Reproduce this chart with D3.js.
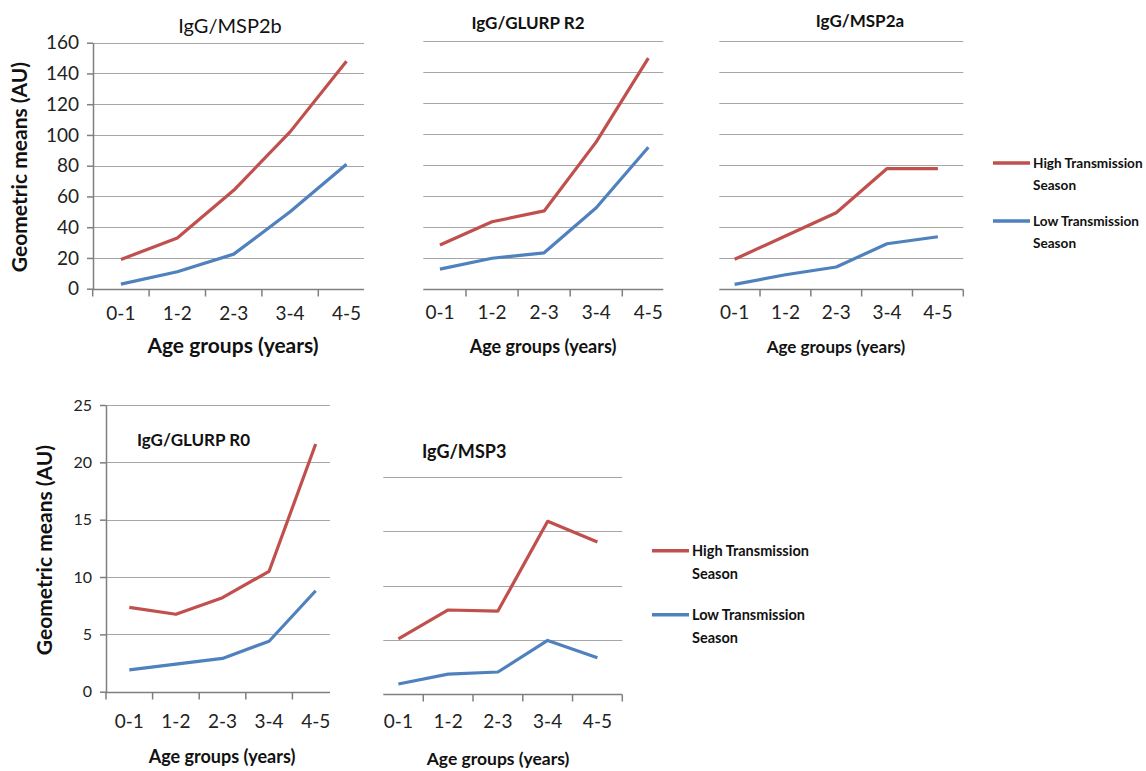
<!DOCTYPE html>
<html>
<head>
<meta charset="utf-8">
<script src="https://cdn.jsdelivr.net/npm/d3@7"></script>
<style>
  body { margin: 0; background: #fff; }
  svg { display: block; font-family: Lato, "Liberation Sans", sans-serif; }
  .lab { fill: #222; }
  .ttl { fill: #111; }
  .axt { font-weight: bold; fill: #111; }
  .leg { font-weight: bold; fill: #111; }
</style>
</head>
<body>
<div id="chart"></div>
<script>
// ---- data ----
var ageGroups = ["0-1", "1-2", "2-3", "3-4", "4-5"];
var seriesNames = ["High Transmission Season", "Low Transmission Season"];
var colors = ["#c0504d", "#4f81bd"];

var msp2bHigh = [19, 33, 64, 102, 148];
var msp2bLow = [3, 11, 22.5, 50, 81];
var glurpR2High = [28.5, 43.5, 50.5, 95, 149];
var glurpR2Low = [13, 20, 23.5, 52.5, 91.5];
var msp2aHigh = [19, 34, 49, 77.5, 77.5];
var msp2aLow = [2.8, 9, 14, 29, 33.5];
var glurpR0High = [7.35, 6.75, 8.2, 10.5, 21.6];
var glurpR0Low = [1.9, 2.4, 2.9, 4.4, 8.8];
var msp3High = [5.1, 7.75, 7.65, 15.9, 14];
var msp3Low = [0.95, 1.85, 2.05, 4.95, 3.35];

var ticksTop = [0, 20, 40, 60, 80, 100, 120, 140, 160];
var ticksR0 = [0, 5, 10, 15, 20, 25];
var ticksMsp3 = [0, 5, 10, 15, 20];

var width = 1146, height = 771;

var svg = d3.select("#chart").append("svg")
	.attr("width", width)
	.attr("height", height);

////////////////////////////////////////////////////////////
///////////////////// panel layouts ////////////////////////
////////////////////////////////////////////////////////////

var panels = [
	{ title: "IgG/MSP2b", high: msp2bHigh, low: msp2bLow, ticks: ticksTop,
	  band: [92.7, 374.7], grid: [93, 364], yr: [288.7, 42.7], yAxis: true, endTick: false,
	  tx: 230, ty: 33, tsize: 20, tweight: "normal", tanchor: "middle",
	  xt: 233, xty: 353, xtsize: 21, labY: 320, labSize: 19, ylabSize: 19,
	  ytx: 20, yty: 167, ytsize: 21 },
	{ title: "IgG/GLURP R2", high: glurpR2High, low: glurpR2Low, ticks: ticksTop,
	  band: [413.9, 674.4], grid: [423.3, 663.3], yr: [289.3, 41], yAxis: false, endTick: false,
	  tx: 528, ty: 29, tsize: 17, tweight: "bold", tanchor: "middle",
	  xt: 543, xty: 353, xtsize: 18, labY: 319, labSize: 19 },
	{ title: "IgG/MSP2a", high: msp2aHigh, low: msp2aLow, ticks: ticksTop,
	  band: [709.2, 963.3], grid: [719.3, 963.3], yr: [288.7, 40.7], yAxis: false, endTick: true,
	  tx: 860, ty: 27, tsize: 17, tweight: "bold", tanchor: "middle",
	  xt: 836, xty: 353, xtsize: 17, labY: 319, labSize: 19,
	  legend: { x: 993, y: 163, len: 37, gap: 58, size: 13.6 } },
	{ title: "IgG/GLURP R0", high: glurpR0High, low: glurpR0Low, ticks: ticksR0,
	  band: [106, 339], grid: [106, 330], yr: [691.7, 405], yAxis: true, endTick: false,
	  tx: 137, ty: 446, tsize: 17, tweight: "bold", tanchor: "start",
	  xt: 222, xty: 763, xtsize: 18, labY: 728, labSize: 19, ylabSize: 16,
	  ytx: 45, yty: 550, ytsize: 21 },
	{ title: "IgG/MSP3", high: msp3High, low: msp3Low, ticks: ticksMsp3,
	  band: [373.5, 622.3], grid: [383.3, 622.3], yr: [694.3, 476.7], yAxis: false, endTick: true,
	  tx: 422, ty: 458, tsize: 18, tweight: "bold", tanchor: "start",
	  xt: 498, xty: 765, xtsize: 17.5, labY: 728, labSize: 19,
	  legend: { x: 652, y: 550.7, len: 37, gap: 64, size: 14.5 } }
];

panels.forEach(drawPanel);

function drawPanel(p) {
	var g = svg.append("g");

	var x = d3.scaleBand()
		.domain(ageGroups)
		.range(p.band);

	var y = d3.scaleLinear()
		.domain(d3.extent(p.ticks))
		.range(p.yr);

	//gridlines
	g.selectAll("line.grid")
		.data(p.ticks.slice(1))
		.enter().append("line")
		.attr("class", "grid")
		.attr("x1", p.grid[0]).attr("x2", p.grid[1])
		.attr("y1", function(d) { return Math.round(y(d)) + 0.5; })
		.attr("y2", function(d) { return Math.round(y(d)) + 0.5; })
		.style("stroke", "#a6a6a6")
		.style("stroke-width", 1.2);

	//y axis with labels
	if (p.yAxis) {
		var ya = g.append("g")
			.attr("transform", "translate(" + p.grid[0] + ",0)")
			.call(d3.axisLeft(y).tickValues(p.ticks).tickSize(6).tickPadding(8).tickSizeOuter(0));
		ya.select(".domain").style("stroke", "#7f7f7f").style("stroke-width", 1.5);
		ya.selectAll(".tick line").style("stroke", "#7f7f7f").style("stroke-width", 1.5);
		ya.selectAll(".tick text")
			.attr("class", "lab")
			.style("font-size", p.ylabSize + "px")
			.style("font-family", "Lato, 'Liberation Sans', sans-serif");

		g.append("text")
			.attr("class", "axt")
			.attr("transform", "translate(" + p.ytx + "," + p.yty + ") rotate(-90)")
			.attr("text-anchor", "middle")
			.attr("dy", "0.35em")
			.style("font-size", p.ytsize + "px")
			.text("Geometric means (AU)");
	}

	//x axis
	var y0 = Math.round(y(0)) + 0.5;
	g.append("line")
		.attr("x1", p.grid[0]).attr("x2", p.grid[1])
		.attr("y1", y0).attr("y2", y0)
		.style("stroke", "#7f7f7f")
		.style("stroke-width", 1.5);

	var tickPos = ageGroups.map(function(d) { return x(d); });
	if (!p.yAxis) tickPos = tickPos.slice(1);
	if (p.endTick) tickPos.push(p.band[1]);
	g.selectAll("line.xtick")
		.data(tickPos)
		.enter().append("line")
		.attr("class", "xtick")
		.attr("x1", function(d) { return d; }).attr("x2", function(d) { return d; })
		.attr("y1", y0).attr("y2", y0 + 7)
		.style("stroke", "#7f7f7f")
		.style("stroke-width", 1.5);

	g.selectAll("text.xlab")
		.data(ageGroups)
		.enter().append("text")
		.attr("class", "lab")
		.attr("x", function(d) { return x(d) + x.bandwidth() / 2; })
		.attr("y", p.labY)
		.attr("text-anchor", "middle")
		.style("font-size", p.labSize + "px")
		.text(function(d) { return d; });

	g.append("text")
		.attr("class", "axt")
		.attr("x", p.xt)
		.attr("y", p.xty)
		.attr("text-anchor", "middle")
		.style("font-size", p.xtsize + "px")
		.text("Age groups (years)");

	//title
	g.append("text")
		.attr("class", "ttl")
		.attr("x", p.tx)
		.attr("y", p.ty)
		.attr("text-anchor", p.tanchor)
		.style("font-size", p.tsize + "px")
		.style("font-weight", p.tweight)
		.text(p.title);

	//lines
	var line = d3.line()
		.x(function(d, i) { return x(ageGroups[i]) + x.bandwidth() / 2; })
		.y(function(d) { return y(d); });

	[p.high, p.low].forEach(function(vals, k) {
		g.append("path")
			.datum(vals)
			.attr("d", line)
			.style("fill", "none")
			.style("stroke", colors[k])
			.style("stroke-width", 3.2)
			.style("stroke-linejoin", "round");
	});

	//legend
	if (p.legend) {
		var lg = g.append("g")
			.attr("transform", "translate(" + p.legend.x + "," + p.legend.y + ")");
		var items = lg.selectAll("g")
			.data(seriesNames)
			.enter().append("g")
			.attr("transform", function(d, i) { return "translate(0," + (i * p.legend.gap) + ")"; });
		items.append("line")
			.attr("x1", 0).attr("x2", p.legend.len)
			.style("stroke", function(d, i) { return colors[i]; })
			.style("stroke-width", 3.5);
		var t = items.append("text")
			.attr("class", "leg")
			.style("font-size", p.legend.size + "px")
			.attr("x", p.legend.len + 3)
			.attr("dy", "0.35em");
		t.append("tspan").text(function(d) { return d.split(" ").slice(0, 2).join(" "); });
		t.append("tspan")
			.attr("x", p.legend.len + 3)
			.attr("dy", "1.6em")
			.text(function(d) { return d.split(" ")[2]; });
	}
}
</script>
</body>
</html>
